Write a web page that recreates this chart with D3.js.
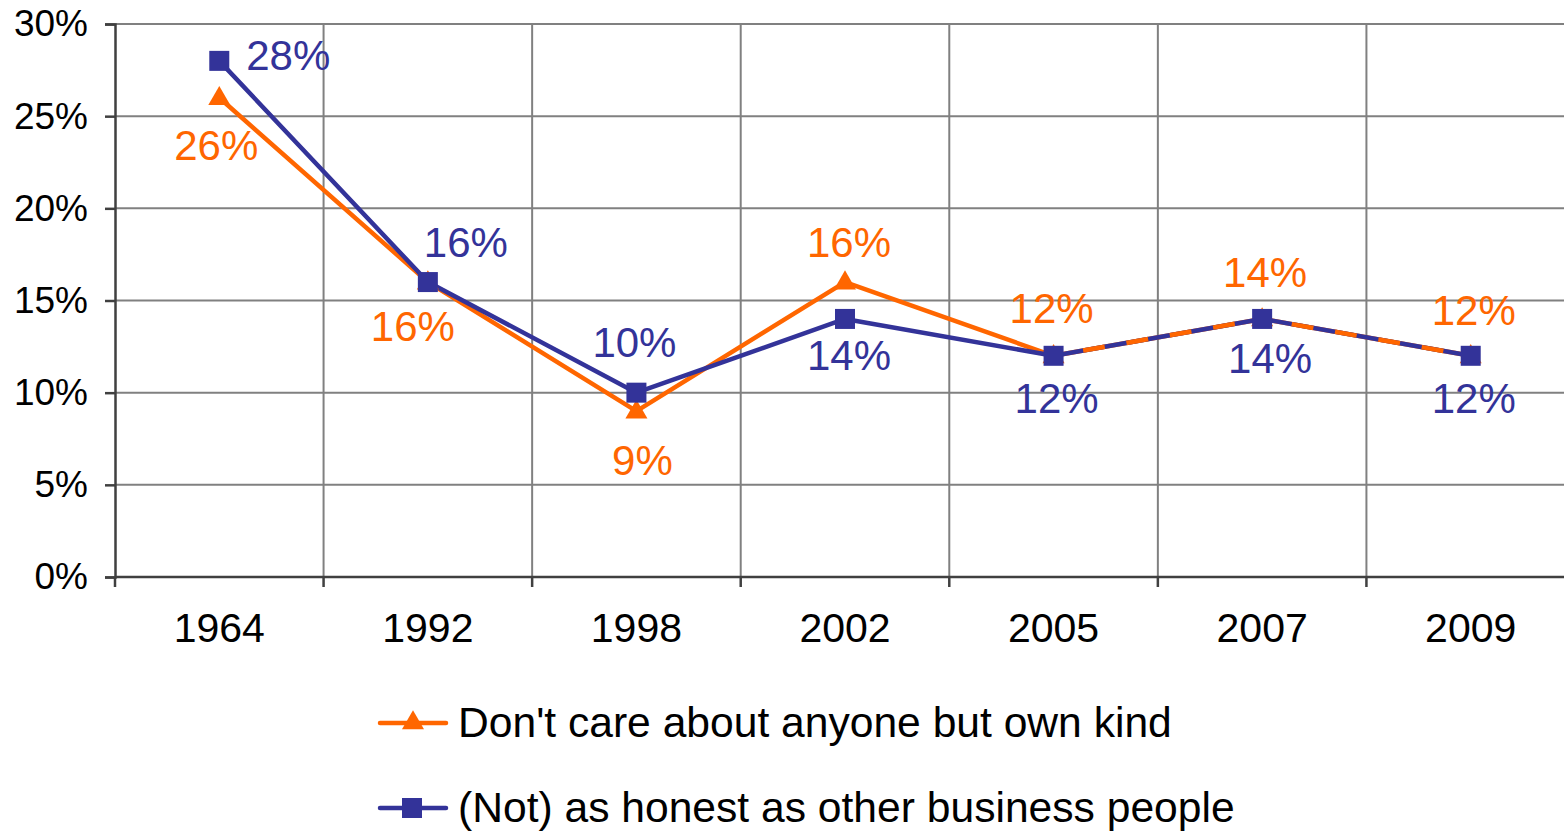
<!DOCTYPE html>
<html><head><meta charset="utf-8">
<script src="https://cdn.jsdelivr.net/npm/d3@7"></script>
<style>body{margin:0;background:#fff}svg{display:block;font-family:"Liberation Sans",Arial,sans-serif}</style>
</head><body><svg id="c" width="1564" height="833"></svg>
<script>
const years = ["1964","1992","1998","2002","2005","2007","2009"];
const dontCare = [26,16,9,16,12,14,12];
const notHonest = [28,16,10,14,12,14,12];
const yTicks = [0,5,10,15,20,25,30];
const seriesNames = ["Don't care about anyone but own kind","(Not) as honest as other business people"];
const colors = ["#FF6600","#333399"];
// label offsets (layout only)
const offOrange = [[-3,48],[-15,44],[6,49],[4,-40],[-2,-47],[3,-46],[3,-45]];
const offBlue = [[69,-5],[38,-40],[-2,-50],[4,37],[3,43],[8,40],[3,43]];

const svg = d3.select("#c");
const L=115, R=1575, T=24, B=577;
const x = d3.scaleBand().domain(years).range([L,R]);
const y = d3.scaleLinear().domain([0,30]).range([B,T]);
const cx = d => x(d)+x.bandwidth()/2;

// gridlines
svg.append("g").selectAll("line").data(yTicks.filter(t=>t>0)).join("line")
  .attr("x1",L).attr("x2",R).attr("y1",d=>y(d)).attr("y2",d=>y(d))
  .attr("stroke","#808080").attr("stroke-width",2);
svg.append("g").selectAll("line").data(years.slice(1)).join("line")
  .attr("x1",d=>x(d)).attr("x2",d=>x(d)).attr("y1",T).attr("y2",B)
  .attr("stroke","#808080").attr("stroke-width",2);

// axes
const yAxis = d3.axisLeft(y).tickValues(yTicks).tickFormat(d=>d+"%").tickSize(10).tickPadding(17);
const gy = svg.append("g").attr("transform",`translate(${L},0)`).call(yAxis);
gy.select(".domain").attr("stroke","#404040").attr("stroke-width",2.5);
gy.selectAll(".tick line").attr("stroke","#404040").attr("stroke-width",2.5);
gy.selectAll("text").attr("font-size",37).attr("fill","#000").attr("font-family","Liberation Sans, Arial, sans-serif");

const gx = svg.append("g").attr("transform",`translate(0,${B})`);
gx.append("line").attr("x1",L).attr("x2",R).attr("stroke","#404040").attr("stroke-width",2.5);
gx.selectAll("line.tk").data(years.concat(["end"])).join("line").attr("class","tk")
  .attr("x1",(d,i)=>L+i*x.step()).attr("x2",(d,i)=>L+i*x.step()).attr("y1",0).attr("y2",10)
  .attr("stroke","#404040").attr("stroke-width",2.5);
gx.selectAll("text").data(years).join("text")
  .attr("x",d=>cx(d)).attr("y",65).attr("text-anchor","middle")
  .attr("font-size",41).attr("fill","#000").text(d=>d);

// lines
const line = d3.line().x((d,i)=>cx(years[i])).y(d=>y(d));
svg.append("path").attr("d",line(dontCare)).attr("fill","none").attr("stroke",colors[0]).attr("stroke-width",4.5).attr("stroke-linejoin","round");
svg.append("path").attr("d",line(notHonest)).attr("fill","none").attr("stroke",colors[1]).attr("stroke-width",4.5).attr("stroke-linejoin","round");
// overlap segments appear dashed
const overlap = [];
for(let i=0;i<years.length-1;i++){ if(dontCare[i]===notHonest[i]&&dontCare[i+1]===notHonest[i+1]) overlap.push(i); }
svg.append("g").selectAll("line").data(overlap).join("line")
  .attr("x1",i=>cx(years[i])).attr("x2",i=>cx(years[i+1]))
  .attr("y1",i=>y(dontCare[i])).attr("y2",i=>y(dontCare[i+1]))
  .attr("stroke",colors[0]).attr("stroke-width",4.5).attr("stroke-dasharray","22,22").attr("stroke-dashoffset",-30);

// markers
const tri = d3.symbol().type(d3.symbolTriangle).size(210);
svg.append("g").selectAll("path").data(dontCare).join("path")
  .attr("d",tri).attr("fill",colors[0])
  .attr("transform",(d,i)=>`translate(${cx(years[i])},${y(d)+1})`);
svg.append("g").selectAll("rect").data(notHonest).join("rect")
  .attr("x",(d,i)=>cx(years[i])-10).attr("y",d=>y(d)-10).attr("width",20).attr("height",20)
  .attr("fill",colors[1]);

// labels
function labels(vals, offs, col){
  svg.append("g").selectAll("text").data(vals).join("text")
    .attr("x",(d,i)=>cx(years[i])+offs[i][0]).attr("y",(d,i)=>y(d)+offs[i][1])
    .attr("text-anchor","middle").attr("dominant-baseline","central")
    .attr("font-size",42).attr("fill",col).text(d=>d+"%");
}
labels(dontCare, offOrange, colors[0]);
labels(notHonest, offBlue, colors[1]);

// legend
const lg = svg.append("g");
[0,1].forEach(k=>{
  const ly = 723 + k*85;
  lg.append("line").attr("x1",380).attr("x2",446).attr("y1",ly).attr("y2",ly)
    .attr("stroke",colors[k]).attr("stroke-width",4.5).attr("stroke-linecap","round");
  if(k===0) lg.append("path").attr("d",tri).attr("fill",colors[0]).attr("transform",`translate(413,${ly})`);
  else lg.append("rect").attr("x",402).attr("y",ly-10).attr("width",20).attr("height",20).attr("fill",colors[1]);
  lg.append("text").attr("x",458).attr("y",ly+14).attr("font-size",42.6).attr("fill","#000").text(seriesNames[k]);
});
</script></body></html>
